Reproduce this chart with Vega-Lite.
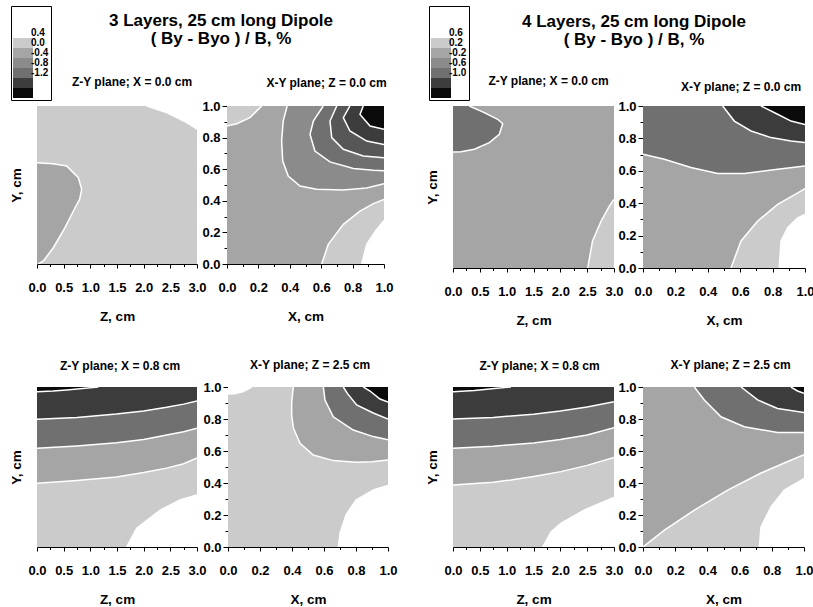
{
  "$schema": "https://vega.github.io/schema/vega-lite/v6.json",
  "padding": {"left": 9, "top": 5, "right": 0, "bottom": 0},
  "background": "white",
  "datasets": {
    "poly": [
      {"p":1,"g":1,"k":"L1","x":0,"y":0,"c":1},{"p":1,"g":1,"k":"L1","x":3,"y":0,"c":1},{"p":1,"g":1,"k":"L1","x":3,"y":1,"c":1},{"p":1,"g":1,"k":"L1","x":0,"y":1,"c":1},
      {"p":1,"g":2,"k":"L0","x":2.06,"y":1},{"p":1,"g":2,"k":"L0","x":2.43,"y":0.958},{"p":1,"g":2,"k":"L0","x":2.81,"y":0.895},{"p":1,"g":2,"k":"L0","x":3,"y":0.853},{"p":1,"g":2,"k":"L0","x":3,"y":1,"c":1},
      {"p":1,"g":3,"k":"L2","x":0,"y":0.641},{"p":1,"g":3,"k":"L2","x":0.3,"y":0.635},{"p":1,"g":3,"k":"L2","x":0.557,"y":0.62},{"p":1,"g":3,"k":"L2","x":0.775,"y":0.546},{"p":1,"g":3,"k":"L2","x":0.838,"y":0.473},{"p":1,"g":3,"k":"L2","x":0.8,"y":0.41},{"p":1,"g":3,"k":"L2","x":0.713,"y":0.356},{"p":1,"g":3,"k":"L2","x":0.525,"y":0.23},{"p":1,"g":3,"k":"L2","x":0.306,"y":0.103},{"p":1,"g":3,"k":"L2","x":0.119,"y":0.019},{"p":1,"g":3,"k":"L2","x":0.025,"y":0},{"p":1,"g":3,"k":"L2","x":0,"y":0,"c":1},

      {"p":2,"g":4,"k":"L2","x":0,"y":0,"c":1},{"p":2,"g":4,"k":"L2","x":1,"y":0,"c":1},{"p":2,"g":4,"k":"L2","x":1,"y":1,"c":1},{"p":2,"g":4,"k":"L2","x":0,"y":1,"c":1},
      {"p":2,"g":5,"k":"L1","x":0.221,"y":1},{"p":2,"g":5,"k":"L1","x":0.146,"y":0.926},{"p":2,"g":5,"k":"L1","x":0.062,"y":0.888},{"p":2,"g":5,"k":"L1","x":0,"y":0.873},{"p":2,"g":5,"k":"L1","x":0,"y":1,"c":1},
      {"p":2,"g":6,"k":"L1","x":0.603,"y":0},{"p":2,"g":6,"k":"L1","x":0.645,"y":0.124},{"p":2,"g":6,"k":"L1","x":0.741,"y":0.251},{"p":2,"g":6,"k":"L1","x":0.847,"y":0.335},{"p":2,"g":6,"k":"L1","x":0.932,"y":0.382},{"p":2,"g":6,"k":"L1","x":1,"y":0.409},{"p":2,"g":6,"k":"L1","x":1,"y":0,"c":1},
      {"p":2,"g":7,"k":"L0","x":0.858,"y":0},{"p":2,"g":7,"k":"L0","x":0.89,"y":0.124},{"p":2,"g":7,"k":"L0","x":0.945,"y":0.208},{"p":2,"g":7,"k":"L0","x":1,"y":0.275},{"p":2,"g":7,"k":"L0","x":1,"y":0,"c":1},
      {"p":2,"g":8,"k":"L3","x":0.383,"y":1},{"p":2,"g":8,"k":"L3","x":0.358,"y":0.905},{"p":2,"g":8,"k":"L3","x":0.348,"y":0.778},{"p":2,"g":8,"k":"L3","x":0.355,"y":0.652},{"p":2,"g":8,"k":"L3","x":0.39,"y":0.557},{"p":2,"g":8,"k":"L3","x":0.465,"y":0.494},{"p":2,"g":8,"k":"L3","x":0.571,"y":0.473},{"p":2,"g":8,"k":"L3","x":0.741,"y":0.468},{"p":2,"g":8,"k":"L3","x":0.89,"y":0.481},{"p":2,"g":8,"k":"L3","x":1,"y":0.508},{"p":2,"g":8,"k":"L3","x":1,"y":1,"c":1},
      {"p":2,"g":9,"k":"L4","x":0.613,"y":1},{"p":2,"g":9,"k":"L4","x":0.55,"y":0.905},{"p":2,"g":9,"k":"L4","x":0.529,"y":0.82},{"p":2,"g":9,"k":"L4","x":0.56,"y":0.715},{"p":2,"g":9,"k":"L4","x":0.656,"y":0.646},{"p":2,"g":9,"k":"L4","x":0.805,"y":0.604},{"p":2,"g":9,"k":"L4","x":0.932,"y":0.593},{"p":2,"g":9,"k":"L4","x":1,"y":0.59},{"p":2,"g":9,"k":"L4","x":1,"y":1,"c":1},
      {"p":2,"g":10,"k":"L5","x":0.699,"y":1},{"p":2,"g":10,"k":"L5","x":0.656,"y":0.905},{"p":2,"g":10,"k":"L5","x":0.667,"y":0.8},{"p":2,"g":10,"k":"L5","x":0.741,"y":0.726},{"p":2,"g":10,"k":"L5","x":0.868,"y":0.684},{"p":2,"g":10,"k":"L5","x":1,"y":0.673},{"p":2,"g":10,"k":"L5","x":1,"y":1,"c":1},
      {"p":2,"g":11,"k":"L6","x":0.783,"y":1},{"p":2,"g":11,"k":"L6","x":0.741,"y":0.926},{"p":2,"g":11,"k":"L6","x":0.783,"y":0.842},{"p":2,"g":11,"k":"L6","x":0.89,"y":0.778},{"p":2,"g":11,"k":"L6","x":1,"y":0.757},{"p":2,"g":11,"k":"L6","x":1,"y":1,"c":1},
      {"p":2,"g":12,"k":"L7","x":0.868,"y":1},{"p":2,"g":12,"k":"L7","x":0.847,"y":0.947},{"p":2,"g":12,"k":"L7","x":0.911,"y":0.873},{"p":2,"g":12,"k":"L7","x":1,"y":0.852},{"p":2,"g":12,"k":"L7","x":1,"y":1,"c":1},

      {"p":3,"g":13,"k":"L1","x":0,"y":0,"c":1},{"p":3,"g":13,"k":"L1","x":3,"y":0,"c":1},{"p":3,"g":13,"k":"L1","x":3,"y":1,"c":1},{"p":3,"g":13,"k":"L1","x":0,"y":1,"c":1},
      {"p":3,"g":14,"k":"L0","x":1.68,"y":0},{"p":3,"g":14,"k":"L0","x":1.87,"y":0.117},{"p":3,"g":14,"k":"L0","x":2.31,"y":0.231},{"p":3,"g":14,"k":"L0","x":2.68,"y":0.294},{"p":3,"g":14,"k":"L0","x":3,"y":0.325},{"p":3,"g":14,"k":"L0","x":3,"y":0,"c":1},
      {"p":3,"g":15,"k":"L2","x":0,"y":0.398},{"p":3,"g":15,"k":"L2","x":0.75,"y":0.415},{"p":3,"g":15,"k":"L2","x":1.49,"y":0.437},{"p":3,"g":15,"k":"L2","x":2,"y":0.465},{"p":3,"g":15,"k":"L2","x":2.43,"y":0.493},{"p":3,"g":15,"k":"L2","x":2.75,"y":0.52},{"p":3,"g":15,"k":"L2","x":3,"y":0.556},{"p":3,"g":15,"k":"L2","x":3,"y":1,"c":1},{"p":3,"g":15,"k":"L2","x":0,"y":1,"c":1},
      {"p":3,"g":16,"k":"L4","x":0,"y":0.617},{"p":3,"g":16,"k":"L4","x":0.75,"y":0.632},{"p":3,"g":16,"k":"L4","x":1.49,"y":0.652},{"p":3,"g":16,"k":"L4","x":2,"y":0.672},{"p":3,"g":16,"k":"L4","x":2.43,"y":0.7},{"p":3,"g":16,"k":"L4","x":2.75,"y":0.72},{"p":3,"g":16,"k":"L4","x":3,"y":0.742},{"p":3,"g":16,"k":"L4","x":3,"y":1,"c":1},{"p":3,"g":16,"k":"L4","x":0,"y":1,"c":1},
      {"p":3,"g":17,"k":"L6","x":0,"y":0.798},{"p":3,"g":17,"k":"L6","x":0.75,"y":0.81},{"p":3,"g":17,"k":"L6","x":1.49,"y":0.831},{"p":3,"g":17,"k":"L6","x":2,"y":0.85},{"p":3,"g":17,"k":"L6","x":2.43,"y":0.873},{"p":3,"g":17,"k":"L6","x":2.75,"y":0.893},{"p":3,"g":17,"k":"L6","x":3,"y":0.912},{"p":3,"g":17,"k":"L6","x":3,"y":1,"c":1},{"p":3,"g":17,"k":"L6","x":0,"y":1,"c":1},
      {"p":3,"g":18,"k":"L7","x":0,"y":0.971},{"p":3,"g":18,"k":"L7","x":0.3,"y":0.975},{"p":3,"g":18,"k":"L7","x":0.556,"y":0.981},{"p":3,"g":18,"k":"L7","x":0.85,"y":0.99},{"p":3,"g":18,"k":"L7","x":1.15,"y":1},{"p":3,"g":18,"k":"L7","x":0,"y":1,"c":1},

      {"p":4,"g":19,"k":"L1","x":0,"y":0,"c":1},{"p":4,"g":19,"k":"L1","x":1,"y":0,"c":1},{"p":4,"g":19,"k":"L1","x":1,"y":1,"c":1},{"p":4,"g":19,"k":"L1","x":0,"y":1,"c":1},
      {"p":4,"g":20,"k":"L0","x":0.148,"y":1},{"p":4,"g":20,"k":"L0","x":0.096,"y":0.971},{"p":4,"g":20,"k":"L0","x":0.04,"y":0.958},{"p":4,"g":20,"k":"L0","x":0,"y":0.956},{"p":4,"g":20,"k":"L0","x":0,"y":1,"c":1},
      {"p":4,"g":21,"k":"L0","x":0.69,"y":0},{"p":4,"g":21,"k":"L0","x":0.7,"y":0.085},{"p":4,"g":21,"k":"L0","x":0.7375,"y":0.2},{"p":4,"g":21,"k":"L0","x":0.8,"y":0.294},{"p":4,"g":21,"k":"L0","x":0.908,"y":0.356},{"p":4,"g":21,"k":"L0","x":1,"y":0.385},{"p":4,"g":21,"k":"L0","x":1,"y":0,"c":1},
      {"p":4,"g":22,"k":"L2","x":0.408,"y":1},{"p":4,"g":22,"k":"L2","x":0.398,"y":0.9},{"p":4,"g":22,"k":"L2","x":0.398,"y":0.82},{"p":4,"g":22,"k":"L2","x":0.41,"y":0.74},{"p":4,"g":22,"k":"L2","x":0.45,"y":0.648},{"p":4,"g":22,"k":"L2","x":0.533,"y":0.575},{"p":4,"g":22,"k":"L2","x":0.658,"y":0.54},{"p":4,"g":22,"k":"L2","x":0.8,"y":0.53},{"p":4,"g":22,"k":"L2","x":0.9,"y":0.533},{"p":4,"g":22,"k":"L2","x":1,"y":0.544},{"p":4,"g":22,"k":"L2","x":1,"y":1,"c":1},
      {"p":4,"g":23,"k":"L4","x":0.596,"y":1},{"p":4,"g":23,"k":"L4","x":0.606,"y":0.919},{"p":4,"g":23,"k":"L4","x":0.658,"y":0.814},{"p":4,"g":23,"k":"L4","x":0.783,"y":0.731},{"p":4,"g":23,"k":"L4","x":0.908,"y":0.69},{"p":4,"g":23,"k":"L4","x":1,"y":0.67},{"p":4,"g":23,"k":"L4","x":1,"y":1,"c":1},
      {"p":4,"g":24,"k":"L6","x":0.721,"y":1},{"p":4,"g":24,"k":"L6","x":0.746,"y":0.96},{"p":4,"g":24,"k":"L6","x":0.804,"y":0.8875},{"p":4,"g":24,"k":"L6","x":0.908,"y":0.8375},{"p":4,"g":24,"k":"L6","x":1,"y":0.8},{"p":4,"g":24,"k":"L6","x":1,"y":1,"c":1},
      {"p":4,"g":25,"k":"L7","x":0.846,"y":1},{"p":4,"g":25,"k":"L7","x":0.8875,"y":0.975},{"p":4,"g":25,"k":"L7","x":0.95,"y":0.925},{"p":4,"g":25,"k":"L7","x":1,"y":0.906},{"p":4,"g":25,"k":"L7","x":1,"y":1,"c":1},

      {"p":5,"g":26,"k":"L2","x":0,"y":0,"c":1},{"p":5,"g":26,"k":"L2","x":3,"y":0,"c":1},{"p":5,"g":26,"k":"L2","x":3,"y":1,"c":1},{"p":5,"g":26,"k":"L2","x":0,"y":1,"c":1},
      {"p":5,"g":27,"k":"L4","x":0.304,"y":1},{"p":5,"g":27,"k":"L4","x":0.583,"y":0.959},{"p":5,"g":27,"k":"L4","x":0.833,"y":0.918},{"p":5,"g":27,"k":"L4","x":0.926,"y":0.891},{"p":5,"g":27,"k":"L4","x":0.863,"y":0.825},{"p":5,"g":27,"k":"L4","x":0.677,"y":0.774},{"p":5,"g":27,"k":"L4","x":0.398,"y":0.733},{"p":5,"g":27,"k":"L4","x":0.149,"y":0.718},{"p":5,"g":27,"k":"L4","x":0,"y":0.716},{"p":5,"g":27,"k":"L4","x":0,"y":1,"c":1},
      {"p":5,"g":28,"k":"L1","x":2.51,"y":0},{"p":5,"g":28,"k":"L1","x":2.6,"y":0.167},{"p":5,"g":28,"k":"L1","x":2.76,"y":0.29},{"p":5,"g":28,"k":"L1","x":2.91,"y":0.38},{"p":5,"g":28,"k":"L1","x":3,"y":0.424},{"p":5,"g":28,"k":"L1","x":3,"y":0,"c":1},

      {"p":6,"g":29,"k":"L2","x":0,"y":0,"c":1},{"p":6,"g":29,"k":"L2","x":1,"y":0,"c":1},{"p":6,"g":29,"k":"L2","x":1,"y":1,"c":1},{"p":6,"g":29,"k":"L2","x":0,"y":1,"c":1},
      {"p":6,"g":30,"k":"L1","x":0.543,"y":0},{"p":6,"g":30,"k":"L1","x":0.605,"y":0.167},{"p":6,"g":30,"k":"L1","x":0.708,"y":0.29},{"p":6,"g":30,"k":"L1","x":0.831,"y":0.393},{"p":6,"g":30,"k":"L1","x":0.934,"y":0.451},{"p":6,"g":30,"k":"L1","x":1,"y":0.49},{"p":6,"g":30,"k":"L1","x":1,"y":0,"c":1},
      {"p":6,"g":31,"k":"L0","x":0.841,"y":0},{"p":6,"g":31,"k":"L0","x":0.852,"y":0.167},{"p":6,"g":31,"k":"L0","x":0.893,"y":0.249},{"p":6,"g":31,"k":"L0","x":0.955,"y":0.31},{"p":6,"g":31,"k":"L0","x":1,"y":0.33},{"p":6,"g":31,"k":"L0","x":1,"y":0,"c":1},
      {"p":6,"g":32,"k":"L4","x":0,"y":0.702},{"p":6,"g":32,"k":"L4","x":0.132,"y":0.671},{"p":6,"g":32,"k":"L4","x":0.296,"y":0.62},{"p":6,"g":32,"k":"L4","x":0.461,"y":0.584},{"p":6,"g":32,"k":"L4","x":0.626,"y":0.584},{"p":6,"g":32,"k":"L4","x":0.831,"y":0.609},{"p":6,"g":32,"k":"L4","x":1,"y":0.63},{"p":6,"g":32,"k":"L4","x":1,"y":1,"c":1},{"p":6,"g":32,"k":"L4","x":0,"y":1,"c":1},
      {"p":6,"g":33,"k":"L6","x":0.492,"y":1},{"p":6,"g":33,"k":"L6","x":0.564,"y":0.907},{"p":6,"g":33,"k":"L6","x":0.667,"y":0.846},{"p":6,"g":33,"k":"L6","x":0.79,"y":0.805},{"p":6,"g":33,"k":"L6","x":0.914,"y":0.784},{"p":6,"g":33,"k":"L6","x":1,"y":0.774},{"p":6,"g":33,"k":"L6","x":1,"y":1,"c":1},
      {"p":6,"g":34,"k":"L7","x":0.728,"y":1},{"p":6,"g":34,"k":"L7","x":0.831,"y":0.949},{"p":6,"g":34,"k":"L7","x":0.914,"y":0.907},{"p":6,"g":34,"k":"L7","x":1,"y":0.886},{"p":6,"g":34,"k":"L7","x":1,"y":1,"c":1},

      {"p":7,"g":35,"k":"L1","x":0,"y":0,"c":1},{"p":7,"g":35,"k":"L1","x":3,"y":0,"c":1},{"p":7,"g":35,"k":"L1","x":3,"y":1,"c":1},{"p":7,"g":35,"k":"L1","x":0,"y":1,"c":1},
      {"p":7,"g":36,"k":"L0","x":1.67,"y":0},{"p":7,"g":36,"k":"L0","x":1.83,"y":0.096},{"p":7,"g":36,"k":"L0","x":2.01,"y":0.148},{"p":7,"g":36,"k":"L0","x":2.45,"y":0.231},{"p":7,"g":36,"k":"L0","x":3,"y":0.31},{"p":7,"g":36,"k":"L0","x":3,"y":0,"c":1},
      {"p":7,"g":37,"k":"L2","x":0,"y":0.3875},{"p":7,"g":37,"k":"L2","x":0.75,"y":0.405},{"p":7,"g":37,"k":"L2","x":1.08,"y":0.419},{"p":7,"g":37,"k":"L2","x":1.5,"y":0.44},{"p":7,"g":37,"k":"L2","x":2.01,"y":0.471},{"p":7,"g":37,"k":"L2","x":2.5,"y":0.51},{"p":7,"g":37,"k":"L2","x":3,"y":0.56},{"p":7,"g":37,"k":"L2","x":3,"y":1,"c":1},{"p":7,"g":37,"k":"L2","x":0,"y":1,"c":1},
      {"p":7,"g":38,"k":"L4","x":0,"y":0.617},{"p":7,"g":38,"k":"L4","x":0.75,"y":0.63},{"p":7,"g":38,"k":"L4","x":1.5,"y":0.65},{"p":7,"g":38,"k":"L4","x":2,"y":0.672},{"p":7,"g":38,"k":"L4","x":2.5,"y":0.7},{"p":7,"g":38,"k":"L4","x":3,"y":0.746},{"p":7,"g":38,"k":"L4","x":3,"y":1,"c":1},{"p":7,"g":38,"k":"L4","x":0,"y":1,"c":1},
      {"p":7,"g":39,"k":"L6","x":0,"y":0.8},{"p":7,"g":39,"k":"L6","x":0.75,"y":0.81},{"p":7,"g":39,"k":"L6","x":1.5,"y":0.83},{"p":7,"g":39,"k":"L6","x":2,"y":0.85},{"p":7,"g":39,"k":"L6","x":2.5,"y":0.875},{"p":7,"g":39,"k":"L6","x":3,"y":0.908},{"p":7,"g":39,"k":"L6","x":3,"y":1,"c":1},{"p":7,"g":39,"k":"L6","x":0,"y":1,"c":1},
      {"p":7,"g":40,"k":"L7","x":0,"y":0.971},{"p":7,"g":40,"k":"L7","x":0.4,"y":0.978},{"p":7,"g":40,"k":"L7","x":0.77,"y":0.99},{"p":7,"g":40,"k":"L7","x":1.08,"y":1},{"p":7,"g":40,"k":"L7","x":0,"y":1,"c":1},

      {"p":8,"g":41,"k":"L2","x":0,"y":0,"c":1},{"p":8,"g":41,"k":"L2","x":1,"y":0,"c":1},{"p":8,"g":41,"k":"L2","x":1,"y":1,"c":1},{"p":8,"g":41,"k":"L2","x":0,"y":1,"c":1},
      {"p":8,"g":42,"k":"L1","x":0,"y":0},{"p":8,"g":42,"k":"L1","x":0.133,"y":0.106},{"p":8,"g":42,"k":"L1","x":0.319,"y":0.231},{"p":8,"g":42,"k":"L1","x":0.526,"y":0.356},{"p":8,"g":42,"k":"L1","x":0.733,"y":0.4625},{"p":8,"g":42,"k":"L1","x":0.878,"y":0.525},{"p":8,"g":42,"k":"L1","x":1,"y":0.577},{"p":8,"g":42,"k":"L1","x":1,"y":0,"c":1},
      {"p":8,"g":43,"k":"L0","x":0.723,"y":0},{"p":8,"g":43,"k":"L0","x":0.733,"y":0.125},{"p":8,"g":43,"k":"L0","x":0.795,"y":0.25},{"p":8,"g":43,"k":"L0","x":0.878,"y":0.356},{"p":8,"g":43,"k":"L0","x":1,"y":0.427},{"p":8,"g":43,"k":"L0","x":1,"y":0,"c":1},
      {"p":8,"g":44,"k":"L4","x":0.319,"y":1},{"p":8,"g":44,"k":"L4","x":0.381,"y":0.919},{"p":8,"g":44,"k":"L4","x":0.484,"y":0.814},{"p":8,"g":44,"k":"L4","x":0.629,"y":0.752},{"p":8,"g":44,"k":"L4","x":0.836,"y":0.715},{"p":8,"g":44,"k":"L4","x":1,"y":0.715},{"p":8,"g":44,"k":"L4","x":1,"y":1,"c":1},
      {"p":8,"g":45,"k":"L6","x":0.609,"y":1},{"p":8,"g":45,"k":"L6","x":0.712,"y":0.919},{"p":8,"g":45,"k":"L6","x":0.836,"y":0.866},{"p":8,"g":45,"k":"L6","x":1,"y":0.84},{"p":8,"g":45,"k":"L6","x":1,"y":1,"c":1},
      {"p":8,"g":46,"k":"L7","x":0.919,"y":1},{"p":8,"g":46,"k":"L7","x":0.96,"y":0.975},{"p":8,"g":46,"k":"L7","x":1,"y":0.96},{"p":8,"g":46,"k":"L7","x":1,"y":1,"c":1}
    ]
  },
  "hconcat": [
    {
      "title": {"text": ["3 Layers, 25 cm long Dipole", "( By - Byo ) / B, %"], "fontSize": 17, "lineHeight": 18, "anchor": "start", "align": "center", "dx": 212, "dy": 46},
      "resolve": {"scale": {"color": "independent"}},
      "spacing": 36,
      "vconcat": [
        {
          "hconcat": [
            {
              "width": 160, "height": 158,
              "title": {"text": "Z-Y plane; X = 0.0 cm", "dx": 15, "offset": -83},
              "data": {"name": "poly"},
              "transform": [{"filter": "datum.p == 1"}],
              "resolve": {"axis": {"x": "independent", "y": "independent"}},
              "layer": [
                {
                  "mark": {"type": "line", "filled": true, "clip": true},
                  "encoding": {
                    "x": {"field": "x", "type": "quantitative", "scale": {"domain": [0, 3], "nice": false, "zero": false}, "axis": {"title": "Z, cm", "values": [0, 0.5, 1, 1.5, 2, 2.5, 3], "format": ".1f", "tickSize": 4, "labelPadding": 13, "titlePadding": 15, "labelFlush": false, "labelOverlap": false}},
                    "y": {"field": "y", "type": "quantitative", "scale": {"domain": [0, 1], "nice": false, "zero": false}, "axis": {"title": "Y, cm", "labels": false, "ticks": false, "domain": false, "titlePadding": 14}},
                    "color": {"field": "k", "type": "nominal", "scale": {"domain": ["L0","L1","L2","L3","L4","L5","L6","L7"], "range": ["#ffffff","#cbcbcb","#a5a5a5","#8b8b8b","#707070","#575757","#3c3c3c","#0a0a0a"]},
                      "legend": {"orient": "none", "legendX": -26, "legendY": -100, "title": " ", "titleFontSize": 16, "titlePadding": 4, "padding": 2, "strokeColor": "black", "fillColor": "white", "values": ["L0","L1","L2","L3","L4","L6","L7"], "symbolType": "M-1,-1H3V1H-1Z", "symbolSize": 100, "symbolStrokeWidth": 0, "rowPadding": 0, "labelOffset": 8, "labelFontSize": 10, "labelFontWeight": "bold", "labelColor": "black", "labelBaseline": "middle", "labelExpr": "['0.4','0.0','-0.4','-0.8','-1.2','','',''][indexof(['L0','L1','L2','L3','L4','L5','L6','L7'], datum.value)]"}},
                    "detail": {"field": "g", "type": "nominal"},
                    "order": {"value": null}
                  }
                },
                {
                  "transform": [{"filter": "datum.c != 1"}],
                  "mark": {"type": "line", "color": "white", "strokeWidth": 1.5, "clip": true},
                  "encoding": {
                    "x": {"field": "x", "type": "quantitative", "axis": {"orient": "bottom", "values": [0.25, 0.75, 1.25, 1.75, 2.25, 2.75], "labels": false, "domain": false, "tickSize": 2.5, "title": null}},
                    "y": {"field": "y", "type": "quantitative", "axis": null},
                    "detail": {"field": "g", "type": "nominal"},
                    "order": {"value": null}
                  }
                }
              ]
            },
            {
              "width": 157, "height": 158,
              "title": {"text": "X-Y plane; Z = 0.0 cm", "dx": 21, "offset": 10},
              "data": {"name": "poly"},
              "transform": [{"filter": "datum.p == 2"}],
              "resolve": {"axis": {"x": "independent", "y": "independent"}},
              "layer": [
                {
                  "mark": {"type": "line", "filled": true, "clip": true},
                  "encoding": {
                    "x": {"field": "x", "type": "quantitative", "scale": {"domain": [0, 1], "nice": false, "zero": false}, "axis": {"title": "X, cm", "values": [0, 0.2, 0.4, 0.6, 0.8, 1], "format": ".1f", "tickSize": 4, "labelPadding": 13, "titlePadding": 15, "labelFlush": false, "labelOverlap": false}},
                    "y": {"field": "y", "type": "quantitative", "scale": {"domain": [0, 1], "nice": false, "zero": false}, "axis": {"title": null, "values": [0, 0.2, 0.4, 0.6, 0.8, 1], "format": ".1f", "tickSize": 5, "labelPadding": 2, "labelFlush": false, "labelOverlap": false}},
                    "color": {"field": "k", "type": "nominal", "scale": {"domain": ["L0","L1","L2","L3","L4","L5","L6","L7"], "range": ["#ffffff","#cbcbcb","#a5a5a5","#8b8b8b","#707070","#575757","#3c3c3c","#0a0a0a"]}, "legend": null},
                    "detail": {"field": "g", "type": "nominal"},
                    "order": {"value": null}
                  }
                },
                {
                  "transform": [{"filter": "datum.c != 1"}],
                  "mark": {"type": "line", "color": "white", "strokeWidth": 1.5, "clip": true},
                  "encoding": {
                    "x": {"field": "x", "type": "quantitative", "axis": {"orient": "bottom", "values": [0.1, 0.3, 0.5, 0.7, 0.9], "labels": false, "domain": false, "tickSize": 2.5, "title": null}},
                    "y": {"field": "y", "type": "quantitative", "axis": {"orient": "left", "values": [0.1, 0.3, 0.5, 0.7, 0.9], "labels": false, "domain": false, "tickSize": 3, "title": null}},
                    "detail": {"field": "g", "type": "nominal"},
                    "order": {"value": null}
                  }
                }
              ]
            }
          ],
          "spacing": 30,
          "bounds": "flush",
          "resolve": {"scale": {"color": "independent"}}
        },
        {
          "hconcat": [
            {
              "width": 160, "height": 160,
              "title": {"text": "Z-Y plane; X = 0.8 cm", "dx": 3, "offset": 14},
              "data": {"name": "poly"},
              "transform": [{"filter": "datum.p == 3"}],
              "resolve": {"axis": {"x": "independent", "y": "independent"}},
              "layer": [
                {
                  "mark": {"type": "line", "filled": true, "clip": true},
                  "encoding": {
                    "x": {"field": "x", "type": "quantitative", "scale": {"domain": [0, 3], "nice": false, "zero": false}, "axis": {"title": "Z, cm", "values": [0, 0.5, 1, 1.5, 2, 2.5, 3], "format": ".1f", "tickSize": 4, "labelPadding": 13, "titlePadding": 15, "labelFlush": false, "labelOverlap": false}},
                    "y": {"field": "y", "type": "quantitative", "scale": {"domain": [0, 1], "nice": false, "zero": false}, "axis": {"title": "Y, cm", "labels": false, "ticks": false, "domain": false, "titlePadding": 14}},
                    "color": {"field": "k", "type": "nominal", "scale": {"domain": ["L0","L1","L2","L3","L4","L5","L6","L7"], "range": ["#ffffff","#cbcbcb","#a5a5a5","#8b8b8b","#707070","#575757","#3c3c3c","#0a0a0a"]}, "legend": null},
                    "detail": {"field": "g", "type": "nominal"},
                    "order": {"value": null}
                  }
                },
                {
                  "transform": [{"filter": "datum.c != 1"}],
                  "mark": {"type": "line", "color": "white", "strokeWidth": 1.5, "clip": true},
                  "encoding": {
                    "x": {"field": "x", "type": "quantitative", "axis": {"orient": "bottom", "values": [0.25, 0.75, 1.25, 1.75, 2.25, 2.75], "labels": false, "domain": false, "tickSize": 2.5, "title": null}},
                    "y": {"field": "y", "type": "quantitative", "axis": null},
                    "detail": {"field": "g", "type": "nominal"},
                    "order": {"value": null}
                  }
                }
              ]
            },
            {
              "width": 160, "height": 160,
              "title": {"text": "X-Y plane; Z = 2.5 cm", "dx": 2, "offset": 9},
              "data": {"name": "poly"},
              "transform": [{"filter": "datum.p == 4"}],
              "resolve": {"axis": {"x": "independent", "y": "independent"}},
              "layer": [
                {
                  "mark": {"type": "line", "filled": true, "clip": true},
                  "encoding": {
                    "x": {"field": "x", "type": "quantitative", "scale": {"domain": [0, 1], "nice": false, "zero": false}, "axis": {"title": "X, cm", "values": [0, 0.2, 0.4, 0.6, 0.8, 1], "format": ".1f", "tickSize": 4, "labelPadding": 13, "titlePadding": 15, "labelFlush": false, "labelOverlap": false}},
                    "y": {"field": "y", "type": "quantitative", "scale": {"domain": [0, 1], "nice": false, "zero": false}, "axis": {"title": null, "values": [0, 0.2, 0.4, 0.6, 0.8, 1], "format": ".1f", "tickSize": 5, "labelPadding": 2, "labelFlush": false, "labelOverlap": false}},
                    "color": {"field": "k", "type": "nominal", "scale": {"domain": ["L0","L1","L2","L3","L4","L5","L6","L7"], "range": ["#ffffff","#cbcbcb","#a5a5a5","#8b8b8b","#707070","#575757","#3c3c3c","#0a0a0a"]}, "legend": null},
                    "detail": {"field": "g", "type": "nominal"},
                    "order": {"value": null}
                  }
                },
                {
                  "transform": [{"filter": "datum.c != 1"}],
                  "mark": {"type": "line", "color": "white", "strokeWidth": 1.5, "clip": true},
                  "encoding": {
                    "x": {"field": "x", "type": "quantitative", "axis": {"orient": "bottom", "values": [0.1, 0.3, 0.5, 0.7, 0.9], "labels": false, "domain": false, "tickSize": 2.5, "title": null}},
                    "y": {"field": "y", "type": "quantitative", "axis": {"orient": "left", "values": [0.1, 0.3, 0.5, 0.7, 0.9], "labels": false, "domain": false, "tickSize": 3, "title": null}},
                    "detail": {"field": "g", "type": "nominal"},
                    "order": {"value": null}
                  }
                }
              ]
            }
          ],
          "spacing": 31,
          "bounds": "flush",
          "resolve": {"scale": {"color": "independent"}}
        }
      ]
    },
    {
      "title": {"text": ["4 Layers, 25 cm long Dipole", "( By - Byo ) / B, %"], "fontSize": 17, "lineHeight": 18, "anchor": "start", "align": "center", "dx": 209, "dy": 47},
      "resolve": {"scale": {"color": "independent"}},
      "spacing": 32,
      "vconcat": [
        {
          "hconcat": [
            {
              "width": 161, "height": 162,
              "title": {"text": "Z-Y plane; X = 0.0 cm", "dx": 15, "offset": -82},
              "data": {"name": "poly"},
              "transform": [{"filter": "datum.p == 5"}],
              "resolve": {"axis": {"x": "independent", "y": "independent"}},
              "layer": [
                {
                  "mark": {"type": "line", "filled": true, "clip": true},
                  "encoding": {
                    "x": {"field": "x", "type": "quantitative", "scale": {"domain": [0, 3], "nice": false, "zero": false}, "axis": {"title": "Z, cm", "values": [0, 0.5, 1, 1.5, 2, 2.5, 3], "format": ".1f", "tickSize": 4, "labelPadding": 13, "titlePadding": 15, "labelFlush": false, "labelOverlap": false}},
                    "y": {"field": "y", "type": "quantitative", "scale": {"domain": [0, 1], "nice": false, "zero": false}, "axis": {"title": "Y, cm", "labels": false, "ticks": false, "domain": false, "titlePadding": 14}},
                    "color": {"field": "k", "type": "nominal", "scale": {"domain": ["L0","L1","L2","L3","L4","L5","L6","L7"], "range": ["#ffffff","#cbcbcb","#a5a5a5","#8b8b8b","#707070","#575757","#3c3c3c","#0a0a0a"]},
                      "legend": {"orient": "none", "legendX": -24, "legendY": -100, "title": " ", "titleFontSize": 16, "titlePadding": 4, "padding": 2, "strokeColor": "black", "fillColor": "white", "values": ["L0","L1","L2","L3","L4","L6","L7"], "symbolType": "M-1,-1H3V1H-1Z", "symbolSize": 100, "symbolStrokeWidth": 0, "rowPadding": 0, "labelOffset": 8, "labelFontSize": 10, "labelFontWeight": "bold", "labelColor": "black", "labelBaseline": "middle", "labelExpr": "['0.6','0.2','-0.2','-0.6','-1.0','','',''][indexof(['L0','L1','L2','L3','L4','L5','L6','L7'], datum.value)]"}},
                    "detail": {"field": "g", "type": "nominal"},
                    "order": {"value": null}
                  }
                },
                {
                  "transform": [{"filter": "datum.c != 1"}],
                  "mark": {"type": "line", "color": "white", "strokeWidth": 1.5, "clip": true},
                  "encoding": {
                    "x": {"field": "x", "type": "quantitative", "axis": {"orient": "bottom", "values": [0.25, 0.75, 1.25, 1.75, 2.25, 2.75], "labels": false, "domain": false, "tickSize": 2.5, "title": null}},
                    "y": {"field": "y", "type": "quantitative", "axis": null},
                    "detail": {"field": "g", "type": "nominal"},
                    "order": {"value": null}
                  }
                }
              ]
            },
            {
              "width": 162, "height": 162,
              "title": {"text": "X-Y plane; Z = 0.0 cm", "dx": 17, "offset": 6},
              "data": {"name": "poly"},
              "transform": [{"filter": "datum.p == 6"}],
              "resolve": {"axis": {"x": "independent", "y": "independent"}},
              "layer": [
                {
                  "mark": {"type": "line", "filled": true, "clip": true},
                  "encoding": {
                    "x": {"field": "x", "type": "quantitative", "scale": {"domain": [0, 1], "nice": false, "zero": false}, "axis": {"title": "X, cm", "values": [0, 0.2, 0.4, 0.6, 0.8, 1], "format": ".1f", "tickSize": 4, "labelPadding": 13, "titlePadding": 15, "labelFlush": false, "labelOverlap": false}},
                    "y": {"field": "y", "type": "quantitative", "scale": {"domain": [0, 1], "nice": false, "zero": false}, "axis": {"title": null, "values": [0, 0.2, 0.4, 0.6, 0.8, 1], "format": ".1f", "tickSize": 5, "labelPadding": 2, "labelFlush": false, "labelOverlap": false}},
                    "color": {"field": "k", "type": "nominal", "scale": {"domain": ["L0","L1","L2","L3","L4","L5","L6","L7"], "range": ["#ffffff","#cbcbcb","#a5a5a5","#8b8b8b","#707070","#575757","#3c3c3c","#0a0a0a"]}, "legend": null},
                    "detail": {"field": "g", "type": "nominal"},
                    "order": {"value": null}
                  }
                },
                {
                  "transform": [{"filter": "datum.c != 1"}],
                  "mark": {"type": "line", "color": "white", "strokeWidth": 1.5, "clip": true},
                  "encoding": {
                    "x": {"field": "x", "type": "quantitative", "axis": {"orient": "bottom", "values": [0.1, 0.3, 0.5, 0.7, 0.9], "labels": false, "domain": false, "tickSize": 2.5, "title": null}},
                    "y": {"field": "y", "type": "quantitative", "axis": {"orient": "left", "values": [0.1, 0.3, 0.5, 0.7, 0.9], "labels": false, "domain": false, "tickSize": 3, "title": null}},
                    "detail": {"field": "g", "type": "nominal"},
                    "order": {"value": null}
                  }
                }
              ]
            }
          ],
          "spacing": 29,
          "bounds": "flush",
          "resolve": {"scale": {"color": "independent"}}
        },
        {
          "hconcat": [
            {
              "width": 161, "height": 160,
              "title": {"text": "Z-Y plane; X = 0.8 cm", "dx": 6, "offset": 14},
              "data": {"name": "poly"},
              "transform": [{"filter": "datum.p == 7"}],
              "resolve": {"axis": {"x": "independent", "y": "independent"}},
              "layer": [
                {
                  "mark": {"type": "line", "filled": true, "clip": true},
                  "encoding": {
                    "x": {"field": "x", "type": "quantitative", "scale": {"domain": [0, 3], "nice": false, "zero": false}, "axis": {"title": "Z, cm", "values": [0, 0.5, 1, 1.5, 2, 2.5, 3], "format": ".1f", "tickSize": 4, "labelPadding": 13, "titlePadding": 15, "labelFlush": false, "labelOverlap": false}},
                    "y": {"field": "y", "type": "quantitative", "scale": {"domain": [0, 1], "nice": false, "zero": false}, "axis": {"title": "Y, cm", "labels": false, "ticks": false, "domain": false, "titlePadding": 14}},
                    "color": {"field": "k", "type": "nominal", "scale": {"domain": ["L0","L1","L2","L3","L4","L5","L6","L7"], "range": ["#ffffff","#cbcbcb","#a5a5a5","#8b8b8b","#707070","#575757","#3c3c3c","#0a0a0a"]}, "legend": null},
                    "detail": {"field": "g", "type": "nominal"},
                    "order": {"value": null}
                  }
                },
                {
                  "transform": [{"filter": "datum.c != 1"}],
                  "mark": {"type": "line", "color": "white", "strokeWidth": 1.5, "clip": true},
                  "encoding": {
                    "x": {"field": "x", "type": "quantitative", "axis": {"orient": "bottom", "values": [0.25, 0.75, 1.25, 1.75, 2.25, 2.75], "labels": false, "domain": false, "tickSize": 2.5, "title": null}},
                    "y": {"field": "y", "type": "quantitative", "axis": null},
                    "detail": {"field": "g", "type": "nominal"},
                    "order": {"value": null}
                  }
                }
              ]
            },
            {
              "width": 161, "height": 160,
              "title": {"text": "X-Y plane; Z = 2.5 cm", "dx": 7, "offset": 9},
              "data": {"name": "poly"},
              "transform": [{"filter": "datum.p == 8"}],
              "resolve": {"axis": {"x": "independent", "y": "independent"}},
              "layer": [
                {
                  "mark": {"type": "line", "filled": true, "clip": true},
                  "encoding": {
                    "x": {"field": "x", "type": "quantitative", "scale": {"domain": [0, 1], "nice": false, "zero": false}, "axis": {"title": "X, cm", "values": [0, 0.2, 0.4, 0.6, 0.8, 1], "format": ".1f", "tickSize": 4, "labelPadding": 13, "titlePadding": 15, "labelFlush": false, "labelOverlap": false}},
                    "y": {"field": "y", "type": "quantitative", "scale": {"domain": [0, 1], "nice": false, "zero": false}, "axis": {"title": null, "values": [0, 0.2, 0.4, 0.6, 0.8, 1], "format": ".1f", "tickSize": 5, "labelPadding": 2, "labelFlush": false, "labelOverlap": false}},
                    "color": {"field": "k", "type": "nominal", "scale": {"domain": ["L0","L1","L2","L3","L4","L5","L6","L7"], "range": ["#ffffff","#cbcbcb","#a5a5a5","#8b8b8b","#707070","#575757","#3c3c3c","#0a0a0a"]}, "legend": null},
                    "detail": {"field": "g", "type": "nominal"},
                    "order": {"value": null}
                  }
                },
                {
                  "transform": [{"filter": "datum.c != 1"}],
                  "mark": {"type": "line", "color": "white", "strokeWidth": 1.5, "clip": true},
                  "encoding": {
                    "x": {"field": "x", "type": "quantitative", "axis": {"orient": "bottom", "values": [0.1, 0.3, 0.5, 0.7, 0.9], "labels": false, "domain": false, "tickSize": 2.5, "title": null}},
                    "y": {"field": "y", "type": "quantitative", "axis": {"orient": "left", "values": [0.1, 0.3, 0.5, 0.7, 0.9], "labels": false, "domain": false, "tickSize": 3, "title": null}},
                    "detail": {"field": "g", "type": "nominal"},
                    "order": {"value": null}
                  }
                }
              ]
            }
          ],
          "spacing": 29,
          "bounds": "flush",
          "resolve": {"scale": {"color": "independent"}}
        }
      ]
    }
  ],
  "spacing": 27,
  "resolve": {"scale": {"color": "independent"}},
  "config": {
    "font": "Liberation Sans",
    "view": {"stroke": null},
    "axis": {"labelFont": "Liberation Sans", "labelFontWeight": "bold", "labelFontSize": 13, "labelColor": "black", "titleFont": "Liberation Sans", "titleFontWeight": "bold", "titleFontSize": 13.5, "titleColor": "black", "tickColor": "black", "domainColor": "black", "grid": false},
    "title": {"font": "Liberation Sans", "fontWeight": "bold", "fontSize": 12, "color": "black"},
    "legend": {"labelFont": "Liberation Sans", "titleFont": "Liberation Sans"}
  }
}
